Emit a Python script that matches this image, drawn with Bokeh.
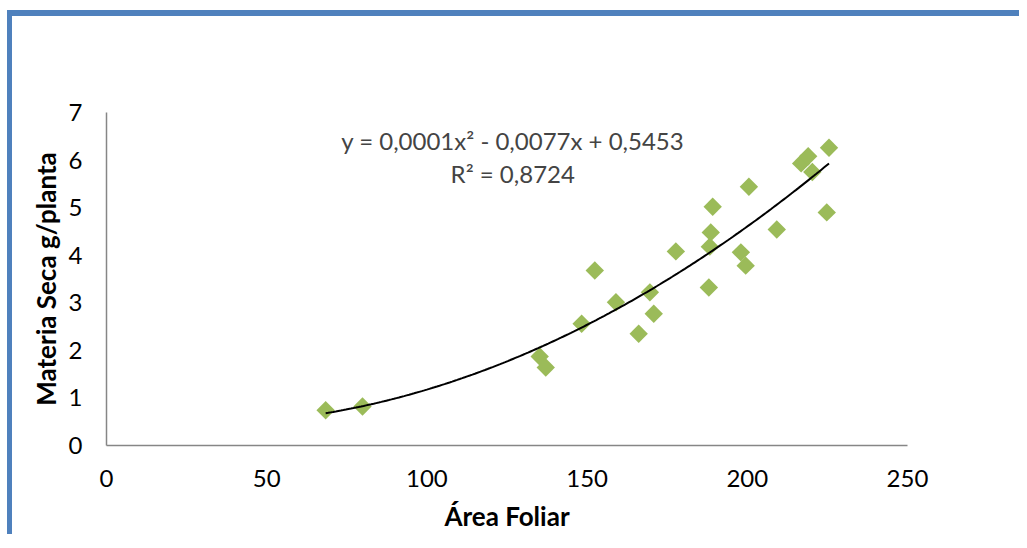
import numpy as np
from bokeh.plotting import figure
from bokeh.models import Range1d, Label
from bokeh.embed import file_html
from bokeh.resources import INLINE

# Data
area_foliar = [68.4, 79.9, 135.2, 137.1, 148.3, 152.4, 159.0, 166.1, 169.6, 170.8,
               177.7, 188.0, 188.3, 188.6, 189.2, 198.0, 199.5, 200.5, 209.2,
               216.8, 219.0, 220.3, 224.8, 225.5]
materia_seca = [0.74, 0.82, 1.87, 1.64, 2.56, 3.68, 3.01, 2.35, 3.22, 2.77,
                4.08, 3.32, 4.18, 4.48, 5.02, 4.06, 3.78, 5.44, 4.54,
                5.93, 6.08, 5.75, 4.90, 6.26]
equation_text = "y = 0,0001x² - 0,0077x + 0,5453"
r2_text = "R² = 0,8724"
x_ticks = [0, 50, 100, 150, 200, 250]
y_ticks = [0, 1, 2, 3, 4, 5, 6, 7]

FONT = "Lato"
GREEN = "#9BBB59"
BLUE = "#4F81BD"

p = figure(
    frame_width=801, frame_height=333,
    min_border_left=94, min_border_top=96, min_border_right=112, min_border_bottom=80,
    x_range=Range1d(0, 250), y_range=Range1d(0, 7),
    output_backend="svg", toolbar_location=None,
)
p.styles = {"border-left": f"5px solid {BLUE}", "border-top": f"6px solid {BLUE}",
            "margin-top": "10px", "margin-left": "7px"}
p.outline_line_color = None
p.xgrid.visible = False
p.ygrid.visible = False
p.background_fill_color = "white"
p.border_fill_color = "white"

for ax in (p.xaxis[0], p.yaxis[0]):
    ax.axis_line_color = "#868686"
    ax.axis_line_width = 1.5
    ax.major_tick_line_color = None
    ax.minor_tick_line_color = None
    ax.major_label_text_font = FONT
    ax.major_label_text_font_size = "24px"
    ax.major_label_text_color = "black"
    ax.axis_label_text_font = FONT
    ax.axis_label_text_font_style = "bold"
    ax.axis_label_text_font_size = "26px"
    ax.axis_label_text_color = "black"

p.xaxis.ticker = x_ticks
p.yaxis.ticker = y_ticks
p.xaxis.axis_label = "Área Foliar"
p.yaxis.axis_label = "Materia Seca g/planta"
p.xaxis.major_label_standoff = 18
p.yaxis.major_label_standoff = 18
p.xaxis.axis_label_standoff = 10
p.yaxis.axis_label_standoff = 4

# points
p.scatter(area_foliar, materia_seca, marker="square", size=13, angle=np.pi / 4,
          fill_color=GREEN, line_color=None)

# polynomial trendline (order 2) fitted to the data
coef = np.polyfit(area_foliar, materia_seca, 2)
xs = np.linspace(min(area_foliar), max(area_foliar), 200)
p.line(xs, np.polyval(coef, xs), line_color="black", line_width=2)

p.add_layout(Label(x=126.8, y=6.41, text=equation_text, text_font=FONT,
                   text_font_size="24px", text_align="center", text_baseline="middle"))
p.add_layout(Label(x=126.8, y=5.72, text=r2_text, text_font=FONT,
                   text_font_size="24px", text_align="center", text_baseline="middle"))

open("out.html", "w").write(file_html(p, INLINE))
